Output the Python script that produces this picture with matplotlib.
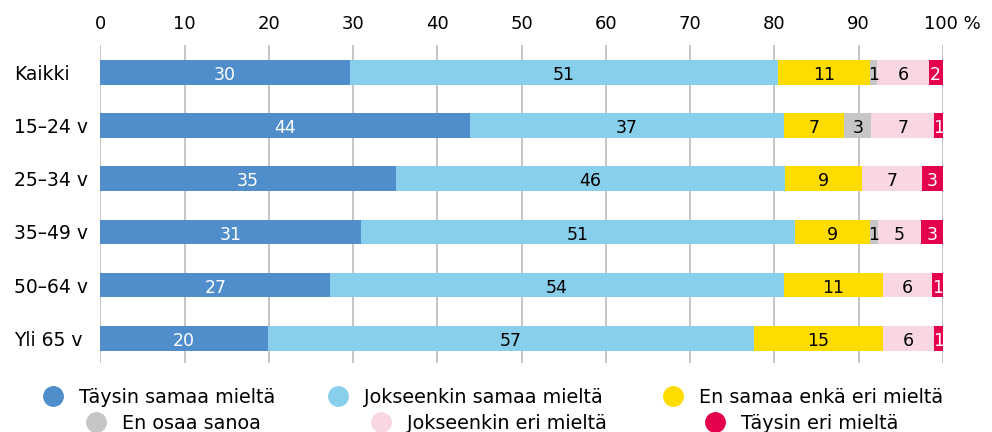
import matplotlib
matplotlib.use("Agg")
import matplotlib.pyplot as plt
import matplotlib.transforms as mtransforms
from matplotlib.lines import Line2D
import numpy as np

plt.rcParams['font.family'] = ['DejaVu Sans']

# categories (top to bottom)
categories = ["Kaikki", "15–24 v", "25–34 v", "35–49 v", "50–64 v", "Yli 65 v"]

series_names = ["Täysin samaa mieltä", "Jokseenkin samaa mieltä", "En samaa enkä eri mieltä",
                "En osaa sanoa", "Jokseenkin eri mieltä", "Täysin eri mieltä"]
colors = ["#4F8ECB", "#88CFEC", "#FFDC00", "#C6C6C6", "#F9D7E2", "#E4004A"]
text_colors = ["white", "black", "black", "black", "black", "white"]

# bar widths (%)
taysin_samaa = [29.6, 43.9, 35.1, 31.0, 27.3, 19.9]
jokseenkin_samaa = [50.8, 37.2, 46.2, 51.4, 53.8, 57.7]
en_samaa_enka = [10.9, 7.2, 9.1, 8.9, 11.8, 15.3]
en_osaa = [0.9, 3.2, 0.0, 0.95, 0.0, 0.0]
jokseenkin_eri = [6.1, 7.5, 7.1, 5.2, 5.8, 6.0]
taysin_eri = [1.7, 1.1, 2.5, 2.6, 1.3, 1.1]

# printed labels (None = no label)
lbl_taysin_samaa = [30, 44, 35, 31, 27, 20]
lbl_jokseenkin_samaa = [51, 37, 46, 51, 54, 57]
lbl_en_samaa_enka = [11, 7, 9, 9, 11, 15]
lbl_en_osaa = [1, 3, None, 1, None, None]
lbl_jokseenkin_eri = [6, 7, 7, 5, 6, 6]
lbl_taysin_eri = [2, 1, 3, 3, 1, 1]

values = [taysin_samaa, jokseenkin_samaa, en_samaa_enka, en_osaa, jokseenkin_eri, taysin_eri]
labels = [lbl_taysin_samaa, lbl_jokseenkin_samaa, lbl_en_samaa_enka, lbl_en_osaa,
          lbl_jokseenkin_eri, lbl_taysin_eri]

W, H = 992, 432
fig = plt.figure(figsize=(W / 100, H / 100), dpi=100)
ax = fig.add_axes([0.1011, 0.1597, 0.8494, 0.7361])

y = np.arange(len(categories))
left = np.zeros(len(categories))
for vals, lbls, col, tcol in zip(values, labels, colors, text_colors):
    vals = np.array(vals)
    ax.barh(y, vals, left=left, height=0.465, color=col, zorder=3)
    for i, (v, l) in enumerate(zip(vals, lbls)):
        if l is None or v <= 0:
            continue
        ax.text(left[i] + v / 2, y[i] + 0.05, str(l), ha='center', va='center',
                color=tcol, fontsize=12.5, zorder=4)
    left += vals

ax.set_xlim(0, 100)
ax.set_ylim(5.464, -0.513)
ax.set_xticks(np.arange(0, 101, 10))
ax.set_xticklabels([str(t) for t in range(0, 100, 10)] + ["100 %"])
ax.xaxis.tick_top()
ax.tick_params(axis='x', length=0, pad=8.5, labelsize=13)
ax.set_yticks(y)
ax.set_yticklabels(categories)
ax.tick_params(axis='y', length=0, pad=0, labelsize=13.5)
for lab in ax.get_yticklabels():
    lab.set_horizontalalignment('left')
    lab.set_transform(lab.get_transform() + mtransforms.ScaledTranslation(-86 / 100, 0, fig.dpi_scale_trans))
last = ax.get_xticklabels()[-1]
last.set_transform(last.get_transform() + mtransforms.ScaledTranslation(9 / 100, 0, fig.dpi_scale_trans))

ax.grid(axis='x', color='#BBBBBB', linewidth=1.2, zorder=0)
for s in ax.spines.values():
    s.set_visible(False)

# legend: two rows on a shared column grid, second row shifted right
legend_x = [[53, 338, 673], [96, 381, 715]]
legend_y = [396, 422]
k = 0
for row in range(2):
    for col in range(3):
        mx = legend_x[row][col] / W
        my = 1 - legend_y[row] / H
        fig.add_artist(Line2D([mx], [my], marker='o', markersize=14, linestyle='none',
                              color=colors[k], transform=fig.transFigure))
        fig.text(mx + 26 / W, my - 7 / H, series_names[k], ha='left', va='baseline', fontsize=13.8)
        k += 1

fig.savefig("out.png", dpi=100)
